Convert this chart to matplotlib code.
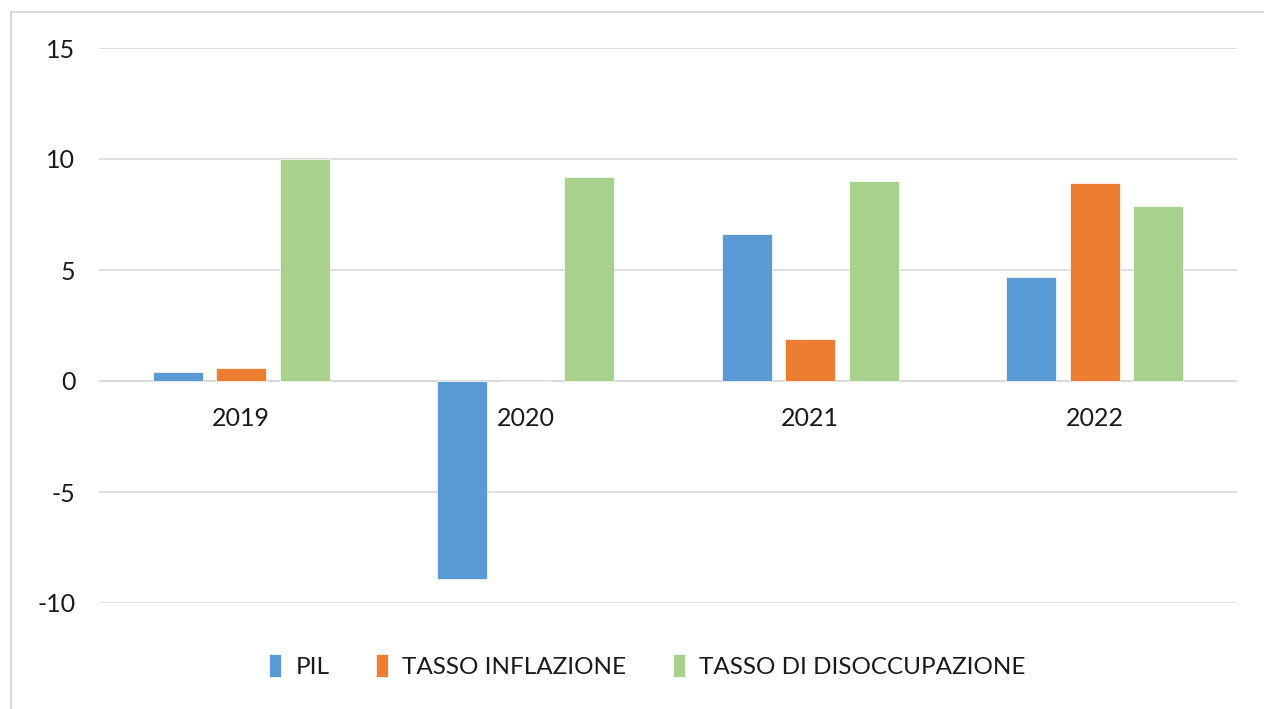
import matplotlib.pyplot as plt
import matplotlib.patches as mpatches
import numpy as np

years = ['2019', '2020', '2021', '2022']
pil = [0.4, -8.9, 6.6, 4.7]
inflazione = [0.6, 0.0, 1.9, 8.9]
disoccupazione = [10.0, 9.2, 9.0, 7.9]

series = [('PIL', pil, '#5B9BD5'),
          ('TASSO INFLAZIONE', inflazione, '#ED7D31'),
          ('TASSO DI DISOCCUPAZIONE', disoccupazione, '#A9D18E')]

plt.rcParams['font.family'] = ['Lato', 'DejaVu Sans']
plt.rcParams['axes.unicode_minus'] = False

fig = plt.figure(figsize=(12.64, 7.09), dpi=100)
ax = fig.add_axes([99 / 1264, 1 - 603 / 709, (1237 - 99) / 1264, (603 - 48) / 709])

# chart frame like the Excel screenshot
fig.patches.append(mpatches.Rectangle((11 / 1264, -0.1), 1.2, 1 - 12 / 709 + 0.1,
                                      transform=fig.transFigure, fill=False,
                                      edgecolor='#D9D9D9', linewidth=1.5))

x = np.arange(len(years))
w = 0.176
step = 0.223
for i, (name, vals, col) in enumerate(series):
    ax.bar(x + (i - 1) * step, vals, w, color=col, label=name,
           edgecolor='white', linewidth=0.5, zorder=3)

ax.set_xlim(-0.5, 3.5)
ax.set_ylim(-10, 15)
ax.set_yticks([-10, -5, 0, 5, 10, 15])
ax.grid(axis='y', color='#D9D9D9', linewidth=1.2, zorder=0)
ax.axhline(0, color='#D9D9D9', linewidth=1.5, zorder=2)
for s in ax.spines.values():
    s.set_visible(False)
ax.tick_params(axis='both', length=0, labelsize=18, labelcolor='#1a1a1a')
ax.tick_params(axis='y', pad=17)
ax.set_xticks([])
for xi, yr in zip(x, years):
    ax.text(xi, -1.15, yr, ha='center', va='top', fontsize=18, color='#1a1a1a')

fig.legend(loc='center', bbox_to_anchor=(0.512, 1 - 666 / 709), ncol=3, frameon=False,
           fontsize=17.5, handlelength=0.5, handleheight=1.1, handletextpad=0.6,
           columnspacing=1.9, labelcolor='#1a1a1a')

fig.savefig('out.png', dpi=100)
